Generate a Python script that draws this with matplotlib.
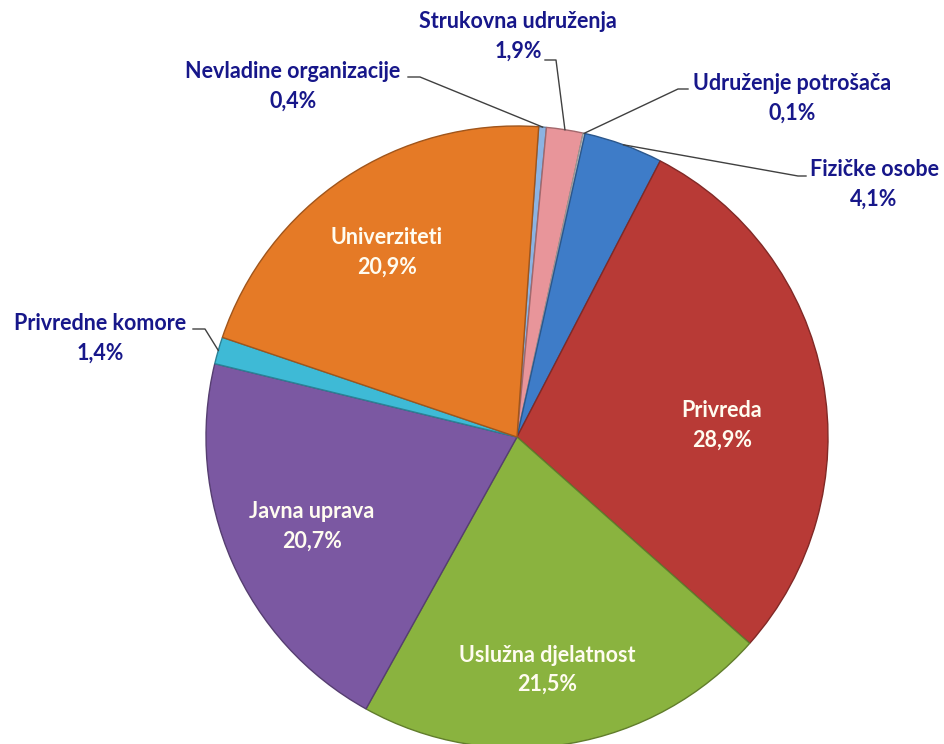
import numpy as np
import matplotlib
matplotlib.use("Agg")
import matplotlib.pyplot as plt
import matplotlib.colors as mcolors

# redoslijed je u smjeru kazaljke, pocevsi od vrha
kategorije = [
    "Nevladine organizacije",
    "Strukovna udruženja",
    "Udruženje potrošača",
    "Fizičke osobe",
    "Privreda",
    "Uslužna djelatnost",
    "Javna uprava",
    "Privredne komore",
    "Univerziteti",
]
procenti = [0.4, 1.9, 0.1, 4.1, 28.9, 21.5, 20.7, 1.4, 20.9]
boje = ["#8CB3E2", "#E8959A", "#D9D9D9", "#3E7CC8", "#B83A36",
        "#8AB33F", "#7B58A2", "#3EBAD6", "#E57A26"]

# polozaj natpisa u pikselima (x, y od vrha); unutra = bijeli tekst
natpisi = {
    "Nevladine organizacije": (293, 72, False),
    "Strukovna udruženja": (518, 22, False),
    "Udruženje potrošača": (792, 84, False),
    "Fizičke osobe": (874, 170, False),
    "Privreda": (722, 411, True),
    "Uslužna djelatnost": (547, 655, True),
    "Javna uprava": (312, 512, True),
    "Privredne komore": (100, 324, False),
    "Univerziteti": (387, 238, True),
}
# gdje pocinje linija vodilica (x, y od vrha)
vodilice = {
    "Nevladine organizacije": [(408, 77), (420, 77)],
    "Strukovna udruženja": [(545, 60), (556, 60)],
    "Udruženje potrošača": [(688, 89), (678, 89)],
    "Fizičke osobe": [(806, 176), (798, 176)],
    "Privredne komore": [(193, 329), (205, 329)],
}

W, H = 945, 744
CX, CY, R = 517, 437, 311
START = 86

plt.rcParams["font.family"] = ["Lato", "DejaVu Sans"]

fig = plt.figure(figsize=(W / 100, H / 100), dpi=100)
ax = fig.add_axes([0, 0, 1, 1])

rubovi = [tuple(np.array(mcolors.to_rgb(c)) * 0.7) for c in boje]
wedges, _ = ax.pie(
    procenti, colors=boje, startangle=START, counterclock=False,
    center=(CX, H - CY), radius=R, frame=True,
    wedgeprops=dict(linewidth=1.0),
)
for w, ec in zip(wedges, rubovi):
    w.set_edgecolor(ec)

tamno = "#17178A"
for i, ime in enumerate(kategorije):
    x, y, unutra = natpisi[ime]
    boja = "#FFFCF0" if unutra else tamno
    pct = f"{procenti[i]:.1f}%".replace(".", ",")
    ax.text(x, H - y, ime, ha="center", va="center", fontsize=15.5,
            fontweight="bold", color=boja)
    ax.text(x, H - y - 29, pct, ha="center", va="center", fontsize=15.5,
            fontweight="bold", color=boja)

    if ime in vodilice:
        w = wedges[i]
        ugao = np.deg2rad((w.theta1 + w.theta2) / 2)
        kx = CX + R * np.cos(ugao)
        ky = (H - CY) + R * np.sin(ugao)
        (x0, y0), (x1, y1) = vodilice[ime]
        ax.plot([x0, x1, kx], [H - y0, H - y1, ky], color="#404040", lw=1.0)

ax.set_xlim(0, W)
ax.set_ylim(0, H)
ax.set_aspect("equal")
ax.axis("off")

fig.savefig("out.png", dpi=100)
